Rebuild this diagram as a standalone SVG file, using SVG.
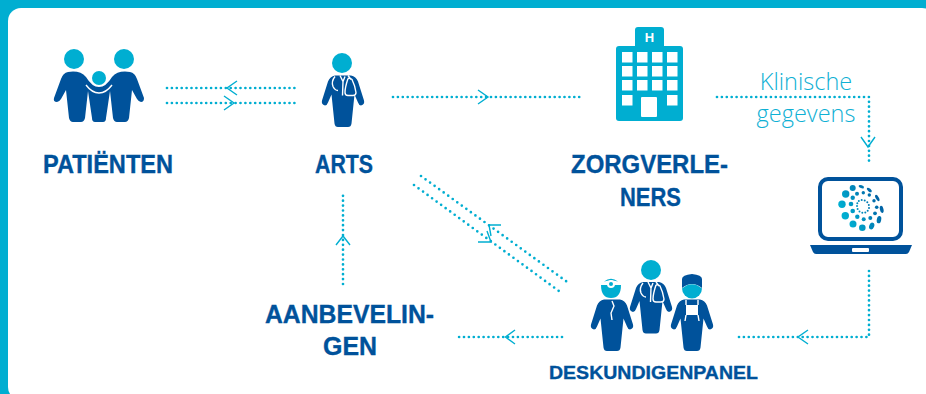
<svg xmlns="http://www.w3.org/2000/svg" width="926" height="394" viewBox="0 0 926 394">
<style>
.lbl{font-family:"Liberation Sans",Arial,sans-serif;font-weight:700;fill:#00529b;stroke:#00529b;stroke-width:.35;text-anchor:middle;font-size:25px}
.sm{font-size:19px}
.note{font-family:"Open Sans","Liberation Sans",sans-serif;font-weight:300;fill:#0fb0d4;font-size:23.500px;text-anchor:middle}
.dot{fill:none;stroke:#00aed1;stroke-width:2.700;stroke-linecap:round;stroke-dasharray:0 4.900}
.diag{stroke-dasharray:0 5.600}
.chev{fill:none;stroke:#00aed1;stroke-width:1.400}
.teal{fill:#00aed1}
.navy{fill:#00529b}
.w{fill:none;stroke:#fff;stroke-width:1.400}
.wf{fill:#fff}
</style>
<defs>
<path id="body" d="M-8,0L8,0Q13,1 15,6L21,25Q22,29 18,30Q16,30 15,27L11.500,19L8.500,48Q8,51.500 5,51.500L-5,51.500Q-8,51.500 -8.500,48L-11.500,19L-15,27Q-16,30 -18,30Q-22,29 -21,25L-15,6Q-13,1 -8,0Z"/>
<path id="steth" d="M-8,1Q-12,6 -10,11Q-8,15 -5,15M5,0L8,4M5,3Q2,12 2,17Q2,20 5,20L10,20Q13,20 13,17Q12,10 9,4Q7,2 5,3M-3,0L0,6L2,1M0,6L-.500,20"/>
<linearGradient id="sp" gradientUnits="userSpaceOnUse" x1="845" y1="215" x2="885" y2="195"><stop offset="0" stop-color="#00aed1"/><stop offset="1" stop-color="#00529b"/></linearGradient>
</defs>
<rect width="926" height="394" fill="#00aed1"/>
<rect x="8" y="8" width="927" height="392" rx="13" fill="#fff"/>

<g id="connectors">
<path class="dot" d="M167,88H295"/>
<path class="chev" d="M237,81L227,88L237,95"/>
<path class="dot" d="M167,103H295"/>
<path class="chev" d="M224,96L234,103L224,110"/>
<path class="dot" d="M393,97H580"/>
<path class="chev" d="M478,90L488,97L478,104"/>
<path class="dot" d="M717,97H869V163"/>
<path class="chev" d="M861,137L868,147L875,137"/>
<path class="dot" d="M869,271V337H735"/>
<path class="chev" d="M808,330L798,337L808,344"/>
<path class="dot" d="M562,337H459"/>
<path class="chev" d="M515,330L505.500,337L515,344"/>
<path class="dot" d="M343,284V195"/>
<path class="chev" d="M336,245L343,236L350,245"/>
<path class="dot diag" d="M421,176L570,284"/>
<path class="chev" d="M501,225H489L491,236"/>
<path class="dot diag" d="M414,185L563,294"/>
<path class="chev" d="M478,242H491L487,231"/>
</g>

<g id="patienten">
<circle class="teal" cx="74" cy="59" r="10"/>
<circle class="teal" cx="124" cy="59" r="10"/>
<circle class="teal" cx="99" cy="78" r="7"/>
<path class="navy" d="M68,72Q80,70 86,77Q92,87 99,87Q106,87 112,77Q118,70 130,72Q135,73 137,79L144,98Q144,102 141,102Q139,102 137,99L132,90L129,118Q128,122 125,122L117,122Q114,122 113,118L110,91L106,118Q106,122 103,122L95,122Q92,122 92,118L88,91L85,118Q84,122 81,122L73,122Q70,122 69,118L66,90L61,99Q59,102 57,102Q53,102 54,98L61,79Q63,73 68,72Z"/>
<path class="w" d="M86,85Q92,93 99,93Q106,93 112,85"/>
<text class="lbl" x="108" y="173" textLength="130" lengthAdjust="spacingAndGlyphs">PATIËNTEN</text>
</g>

<g id="arts">
<circle class="teal" cx="342" cy="63" r="10"/>
<use href="#body" x="343" y="75.500" class="navy"/>
<use href="#steth" x="343" y="75.500" class="w"/>
<text class="lbl" x="344" y="173" textLength="58" lengthAdjust="spacingAndGlyphs">ARTS</text>
</g>

<g id="zorgverleners">
<rect class="teal" x="635" y="27" width="29" height="24" rx="3"/>
<rect class="teal" x="616" y="46" width="67" height="75" rx="3"/>
<text x="649.500" y="42" font-family="Liberation Sans,sans-serif" font-weight="700" font-size="13" fill="#fff" text-anchor="middle">H</text>
<g class="wf">
<rect x="622" y="52" width="10.500" height="10.500"/><rect x="637" y="52" width="10.500" height="10.500"/><rect x="652" y="52" width="10.500" height="10.500"/><rect x="667" y="52" width="10.500" height="10.500"/>
<rect x="622" y="66" width="10.500" height="10.500"/><rect x="637" y="66" width="10.500" height="10.500"/><rect x="652" y="66" width="10.500" height="10.500"/><rect x="667" y="66" width="10.500" height="10.500"/>
<rect x="622" y="80" width="10.500" height="10.500"/><rect x="637" y="80" width="10.500" height="10.500"/><rect x="652" y="80" width="10.500" height="10.500"/><rect x="667" y="80" width="10.500" height="10.500"/>
<rect x="622" y="95" width="10.500" height="10.500"/><rect x="667" y="95" width="10.500" height="10.500"/>
<rect x="641" y="97" width="16" height="20" rx="1"/>
</g>
<text class="lbl" x="649.500" y="173" textLength="157" lengthAdjust="spacingAndGlyphs">ZORGVERLE-</text>
<text class="lbl" x="650.500" y="206" textLength="61" lengthAdjust="spacingAndGlyphs">NERS</text>
</g>

<g id="klinische-gegevens">
<text class="note" x="806" y="90">Klinische</text>
<text class="note" x="806" y="122">gegevens</text>
</g>

<g id="laptop">
<rect x="820" y="179" width="81" height="60" rx="8" fill="#fff" stroke="#00529b" stroke-width="4"/>
<path class="navy" d="M810,245H912L909,252Q908,254 906,254H816Q814,254 813,252Z"/>
<rect class="wf" x="852" y="248" width="17" height="4" rx="1"/>
<g fill="url(#sp)">
<circle cx="845.700" cy="194" r="3.700"/><circle cx="842" cy="204.300" r="3.700"/><circle cx="845.300" cy="215.700" r="3.700"/><circle cx="853" cy="224" r="3.500"/><circle cx="862.300" cy="227.700" r="3.300"/><ellipse cx="871.700" cy="226" rx="2.500" ry="3.500" transform="rotate(20 871.700 226)"/><ellipse cx="879" cy="219.700" rx="2.200" ry="3.700" transform="rotate(12 879 219.700)"/><ellipse cx="881.700" cy="209.300" rx="1.800" ry="3.700" transform="rotate(-12 881.700 209.300)"/><ellipse cx="877.300" cy="198" rx="1.500" ry="3.500" transform="rotate(-30 877.300 198)"/><ellipse cx="869.300" cy="190" rx="1.500" ry="3" transform="rotate(-50 869.300 190)"/><ellipse cx="861.300" cy="186.700" rx="1.500" ry="2.800" transform="rotate(-70 861.300 186.700)"/><circle cx="852.700" cy="188" r="3"/>
<circle cx="851" cy="204" r="2.300"/><circle cx="852.700" cy="211" r="2.300"/><circle cx="857.300" cy="216.700" r="2.200"/><circle cx="863.700" cy="219.300" r="2"/><circle cx="870.300" cy="218" r="2"/><circle cx="875" cy="213.300" r="1.900"/><circle cx="876.700" cy="207.300" r="1.800"/><circle cx="874" cy="200.700" r="1.700"/><circle cx="869.300" cy="195" r="1.700"/><circle cx="863.300" cy="192.700" r="1.700"/><circle cx="857" cy="193.700" r="2"/><circle cx="852.700" cy="197.700" r="2.200"/>
<circle cx="857" cy="206" r="1"/><circle cx="857.600" cy="209" r="1"/><circle cx="859.500" cy="211.500" r="1"/><circle cx="862.300" cy="212.700" r="1"/><circle cx="865.300" cy="212.500" r="1"/><circle cx="867.700" cy="210.700" r="1"/><circle cx="869" cy="208" r="1"/><circle cx="868.800" cy="205" r="1"/><circle cx="867.300" cy="202.300" r="1"/><circle cx="864.700" cy="200.500" r="1"/><circle cx="861.700" cy="200" r="1"/><circle cx="858.800" cy="201" r="1"/><circle cx="857.300" cy="203.300" r="1"/>
</g>
</g>

<g id="deskundigenpanel">
<use href="#body" x="612" y="299.500" class="navy"/>
<path class="w" d="M612,301L614,306L611,313L612,320"/>
<path class="teal" d="M601,285H621Q621,298 611,298Q601,298 601,285Z"/>
<path class="teal" d="M604,281.500Q611,276 618,281.500Q611,279.500 604,281.500Z"/>
<circle cx="611" cy="284" r="4" fill="#fff"/><circle class="teal" cx="611" cy="284" r="2"/>
<circle class="teal" cx="651" cy="270" r="10"/>
<use href="#body" x="651" y="282" class="navy"/>
<use href="#steth" x="651" y="282" class="w"/>
<path class="navy" d="M682,288V279Q682,275 692,274Q702,275 702,279V288Q692,280 682,288Z"/>
<path class="teal" d="M682,288.500Q692,280 702,288.500A10,10 0 0 1 682,288.500Z"/>
<use href="#body" x="692" y="299.500" class="navy"/>
<path class="wf" d="M686,305H698V315H686Z"/>
<path class="w" d="M686,300V305M698,300V305M686,315L685,321M698,315L699,321"/>
<text class="lbl sm" x="653.500" y="379" textLength="209" lengthAdjust="spacingAndGlyphs">DESKUNDIGENPANEL</text>
</g>

<g id="aanbevelingen">
<text class="lbl" x="349.500" y="323" textLength="169" lengthAdjust="spacingAndGlyphs">AANBEVELIN-</text>
<text class="lbl" x="350" y="355" textLength="54" lengthAdjust="spacingAndGlyphs">GEN</text>
</g>
</svg>
